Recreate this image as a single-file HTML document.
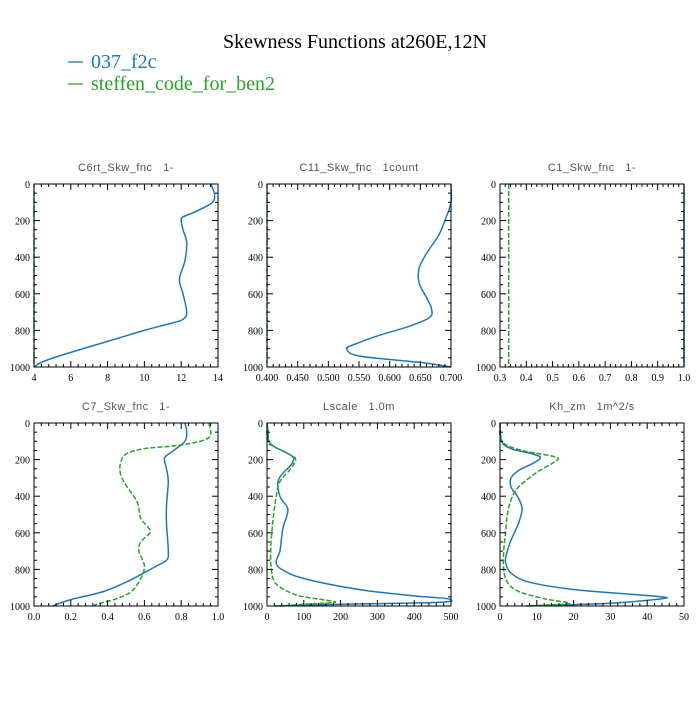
<!DOCTYPE html>
<html><head><meta charset="utf-8"><style>
body{margin:0;background:#fff;width:700px;height:700px;overflow:hidden}
svg text{font-family:"Liberation Serif",serif;white-space:pre}
</style></head><body>
<svg id="chart" width="700" height="700" xmlns="http://www.w3.org/2000/svg">
<text x="355" y="48" font-size="20" text-anchor="middle" fill="#000">Skewness Functions at260E,12N</text>
<g><line x1="68" y1="62" x2="83" y2="62" stroke="#1f77b4" stroke-width="1.3"/><text x="91" y="68" font-size="20" fill="#1f77b4">037_f2c</text></g>
<g><line x1="68" y1="84" x2="83" y2="84" stroke="#2ca02c" stroke-width="1.3"/><text x="91" y="90" font-size="20" fill="#2ca02c">steffen_code_for_ben2</text></g>
</svg>
<script>
const svgNS="http://www.w3.org/2000/svg";
const svg=document.getElementById('chart');
const panelTitles=["C6rt_Skw_fnc   1-","C11_Skw_fnc   1count","C1_Skw_fnc   1-","C7_Skw_fnc   1-","Lscale   1.0m","Kh_zm   1m^2/s"];
const xTickLabels=[["4","6","8","10","12","14"],["0.400","0.450","0.500","0.550","0.600","0.650","0.700"],["0.3","0.4","0.5","0.6","0.7","0.8","0.9","1.0"],["0.0","0.2","0.4","0.6","0.8","1.0"],["0","100","200","300","400","500"],["0","10","20","30","40","50"]];
const xDomains=[[4,14],[0.4,0.7],[0.3,1.0],[0,1],[0,500],[0,50]];
const yTickLabels=["0","200","400","600","800","1000"];
const depths1=[0,50,100,150,180,200,250,320,420,520,600,700,740,760,800,860,920,970,1000];
const blue1=[13.6,13.8,13.7,12.8,12.1,12.0,12.1,12.3,12.2,11.9,12.1,12.3,12.1,11.5,10,8,6,4.5,4];
const green1d=[0,1000];const green1=[4,4];
const depths2=[0,100,200,280,380,460,540,620,680,730,780,830,880,900,940,975,1000];
const blue2=[0.7,0.7,0.69,0.68,0.66,0.648,0.648,0.66,0.668,0.665,0.63,0.58,0.54,0.53,0.55,0.65,0.7];
const green2d=[0,1000];const green2=[0.4,0.4];
const blue3d=[0,1000];const blue3=[1.0,1.0];
const green3d=[0,1000];const green3=[0.333,0.333];
const blue4d=[0,50,100,150,190,250,320,450,550,700,750,790,860,920,965,1000];
const blue4=[0.82,0.83,0.82,0.76,0.71,0.72,0.73,0.72,0.72,0.73,0.72,0.65,0.52,0.38,0.2,0.1];
const green4d=[0,80,120,140,170,220,280,340,430,520,570,600,650,700,780,850,920,960,990,1000];
const green4=[0.95,0.95,0.8,0.6,0.5,0.47,0.47,0.5,0.56,0.58,0.62,0.63,0.58,0.57,0.6,0.58,0.53,0.45,0.34,0.33];
const blue5d=[0,50,100,130,160,190,230,270,320,400,460,500,560,620,700,760,800,850,910,945,960,980,990,1000];
const blue5=[0,3,5,20,50,72,65,45,30,35,55,55,45,40,35,25,40,100,250,400,490,470,200,20];
const green5d=[0,100,130,170,200,260,320,400,500,600,700,800,880,940,965,980,990,1000];
const green5=[0,2,20,60,78,60,35,25,18,13,10,12,25,80,150,185,100,40];
const blue6d=[0,100,140,170,190,220,260,300,350,410,470,550,640,700,760,820,870,910,935,950,960,985,995,1000];
const blue6=[0,0.5,3,9,11,9,5,3,3,5,6,5,3,2,1.5,3,8,20,35,44,44,30,15,8];
const green6d=[0,100,150,185,210,270,350,420,500,600,700,800,870,920,960,985,995,1000];
const green6=[0,0.5,6,15,15,10,5,3,2,1.5,1,1,2,5,12,19,12,7];
const series=[
 [[depths1,blue1],[green1d,green1]],
 [[depths2,blue2],[green2d,green2]],
 [[blue3d,blue3],[green3d,green3]],
 [[blue4d,blue4],[green4d,green4]],
 [[blue5d,blue5],[green5d,green5]],
 [[blue6d,blue6],[green6d,green6]]
];
const colsX=[34,267,500],rowsY=[184,423],W=184,H=183;
function mk(tag,attrs,parent){const e=document.createElementNS(svgNS,tag);for(const k in attrs)e.setAttribute(k,attrs[k]);(parent||svg).appendChild(e);return e;}
function smooth(pts){let d=`M${pts[0][0]},${pts[0][1]}`;for(let i=0;i<pts.length-1;i++){const p0=pts[Math.max(0,i-1)],p1=pts[i],p2=pts[i+1],p3=pts[Math.min(pts.length-1,i+2)];const c1=[p1[0]+(p2[0]-p0[0])/6,p1[1]+(p2[1]-p0[1])/6],c2=[p2[0]-(p3[0]-p1[0])/6,p2[1]-(p3[1]-p1[1])/6];d+=`C${c1[0].toFixed(1)},${c1[1].toFixed(1)} ${c2[0].toFixed(1)},${c2[1].toFixed(1)} ${p2[0].toFixed(1)},${p2[1].toFixed(1)}`;}return d;}
for(let p=0;p<6;p++){
 const x0=colsX[p%3],y0=rowsY[Math.floor(p/3)];
 const [dmin,dmax]=xDomains[p];
 const sx=v=>x0+(v-dmin)/(dmax-dmin)*W, sy=v=>y0+v/1000*H;
 const g=mk('g',{});
 
 
 const t=mk('text',{x:x0+W/2,y:y0-13,'font-size':11,'text-anchor':'middle',fill:'#555',style:'font-family:"Liberation Sans",sans-serif;letter-spacing:0.5px;white-space:pre'},g);
 t.textContent=panelTitles[p];
 
 
 series[p].forEach((s,si)=>{
  const pts=s[0].map((d,i)=>[sx(s[1][i]),sy(d)]);
  const path=mk('path',{d:smooth(pts),fill:'none',stroke:si?'#2ca02c':'#1f77b4','stroke-width':1.5,'stroke-dasharray':si?'5,2':'none'},g);
  
  
 });
 const frame=mk('rect',{x:x0,y:y0,width:W,height:H,fill:'none',stroke:'#000','stroke-width':1},g);
 
 
 for(let v=0;v<=1000;v+=50){const y=sy(v),L=v%200===0?6:3;
  mk('line',{x1:x0,y1:y,x2:x0+L,y2:y,stroke:'#000'},g);mk('line',{x1:x0+W,y1:y,x2:x0+W-L,y2:y,stroke:'#000'},g);}
 yTickLabels.forEach(l=>{const tt=mk('text',{x:x0-4,y:sy(+l)+4,'font-size':10,'text-anchor':'end'},g);tt.textContent=l;
  });
 const labs=xTickLabels[p],n=labs.length-1;
 for(let i=0;i<=n*5;i++){const x=x0+i/(n*5)*W,L=i%5===0?6:3;
  mk('line',{x1:x,y1:y0,x2:x,y2:y0+L,stroke:'#000'},g);mk('line',{x1:x,y1:y0+H,x2:x,y2:y0+H-L,stroke:'#000'},g);}
 labs.forEach(l=>{const tt=mk('text',{x:sx(+l),y:y0+H+14,'font-size':10,'text-anchor':'middle'},g);tt.textContent=l;
  });
}
</script>
</body></html>
